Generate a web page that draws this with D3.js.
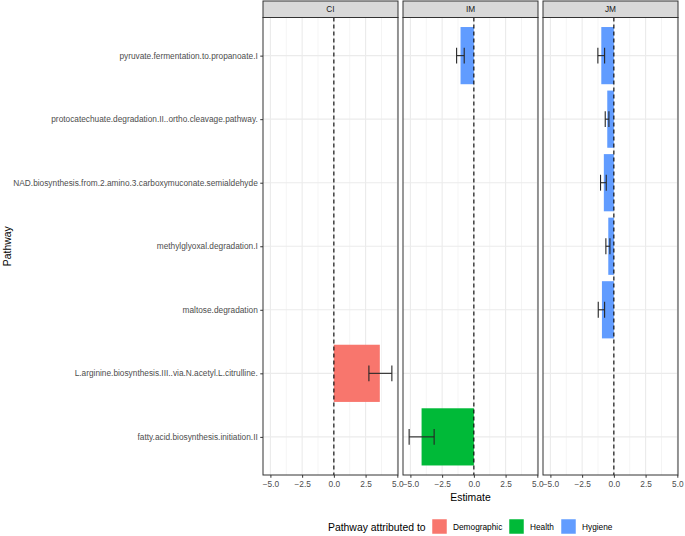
<!DOCTYPE html>
<html>
<head>
<meta charset="utf-8">
<script src="https://cdn.jsdelivr.net/npm/d3@7"></script>
<style>
  body { margin: 0; background: #fff; }
  svg { display: block; font-family: "Liberation Sans", Arial, sans-serif; }
</style>
</head>
<body>
<svg id="chart" width="685" height="536"></svg>
<script>
// ---- Data ----
const panels = ["CI", "IM", "JM"];
const pathways = [
  "pyruvate.fermentation.to.propanoate.I",
  "protocatechuate.degradation.II..ortho.cleavage.pathway.",
  "NAD.biosynthesis.from.2.amino.3.carboxymuconate.semialdehyde",
  "methylglyoxal.degradation.I",
  "maltose.degradation",
  "L.arginine.biosynthesis.III..via.N.acetyl.L.citrulline.",
  "fatty.acid.biosynthesis.initiation.II"
];
const groups = ["Demographic", "Health", "Hygiene"];
const groupColors = ["#F8766D", "#00BA38", "#619CFF"];
const xTicks = [-5, -2.5, 0, 2.5, 5];
const xMinorTicks = [-3.75, -1.25, 1.25, 3.75];

const rowPanel    = ["CI", "IM", "IM", "JM", "JM", "JM", "JM", "JM"];
const rowPathway  = [
  "L.arginine.biosynthesis.III..via.N.acetyl.L.citrulline.",
  "pyruvate.fermentation.to.propanoate.I",
  "fatty.acid.biosynthesis.initiation.II",
  "pyruvate.fermentation.to.propanoate.I",
  "protocatechuate.degradation.II..ortho.cleavage.pathway.",
  "NAD.biosynthesis.from.2.amino.3.carboxymuconate.semialdehyde",
  "methylglyoxal.degradation.I",
  "maltose.degradation"
];
const rowGroup    = ["Demographic", "Hygiene", "Health", "Hygiene", "Hygiene", "Hygiene", "Hygiene", "Hygiene"];
const rowEstimate = [3.62, -1.05, -4.12, -0.99, -0.52, -0.79, -0.44, -0.94];
const rowLower    = [2.76, -1.36, -5.10, -1.26, -0.68, -1.05, -0.63, -1.23];
const rowUpper    = [4.57, -0.76, -3.13, -0.73, -0.39, -0.60, -0.31, -0.73];

const rows = rowPanel.map((p, i) => ({
  panel: p, pathway: rowPathway[i], group: rowGroup[i],
  est: rowEstimate[i], lo: rowLower[i], hi: rowUpper[i]
}));

// ---- Layout ----
const svg = d3.select("#chart");
const panelTop = 17.5, panelBottom = 475;
const panelW = 135, panelGap = 5, firstLeft = 263;
const stripTop = 1;

const dmin = d3.min(rows, d => Math.min(d.lo, d.est, 0));
const dmax = d3.max(rows, d => Math.max(d.hi, d.est, 0));
const pad = (dmax - dmin) * 0.05;

const x = d3.scaleLinear().domain([dmin - pad, dmax + pad]).range([0, panelW]);
const y = d3.scaleBand().domain(pathways)
  .range([panelTop, panelBottom]).paddingOuter(0.1).paddingInner(0).align(0.5);
// ggplot discrete expansion 0.6 units each side
const n = pathways.length;
const step = (panelBottom - panelTop) / (n - 1 + 1.2);
const yc = p => panelTop + (0.6 + pathways.indexOf(p)) * step;
const color = d3.scaleOrdinal().domain(groups).range(groupColors);

const gridCol = "#EBEBEB", borderCol = "#333333", tickCol = "#333333", txtCol = "#4D4D4D";

panels.forEach((pn, pi) => {
  const left = firstLeft + pi * (panelW + panelGap);
  const g = svg.append("g").attr("transform", `translate(${left},0)`);

  // strip
  g.append("rect").attr("x", 0).attr("y", stripTop).attr("width", panelW)
    .attr("height", panelTop - stripTop).attr("fill", "#D9D9D9")
    .attr("stroke", borderCol).attr("stroke-width", 1);
  g.append("text").attr("x", panelW / 2).attr("y", (stripTop + panelTop) / 2 + 3)
    .attr("text-anchor", "middle").attr("font-size", 8.3).attr("fill", "#1A1A1A").text(pn);

  // minor vertical grid
  g.selectAll(".minor").data(xMinorTicks).enter().append("line")
    .attr("x1", d => x(d)).attr("x2", d => x(d)).attr("y1", panelTop).attr("y2", panelBottom)
    .attr("stroke", gridCol).attr("stroke-width", 0.55);
  // major vertical grid
  g.selectAll(".major").data(xTicks).enter().append("line")
    .attr("x1", d => x(d)).attr("x2", d => x(d)).attr("y1", panelTop).attr("y2", panelBottom)
    .attr("stroke", gridCol).attr("stroke-width", 1.1);
  // horizontal grid
  g.selectAll(".hgrid").data(pathways).enter().append("line")
    .attr("x1", 0).attr("x2", panelW).attr("y1", d => yc(d)).attr("y2", d => yc(d))
    .attr("stroke", gridCol).attr("stroke-width", 1.1);

  const pd = rows.filter(r => r.panel === pn);
  const bh = step * 0.9;
  // bars
  g.selectAll(".bar").data(pd).enter().append("rect")
    .attr("x", d => Math.min(x(0), x(d.est)))
    .attr("width", d => Math.abs(x(d.est) - x(0)))
    .attr("y", d => yc(d.pathway) - bh / 2).attr("height", bh)
    .attr("fill", d => color(d.group));

  // dashed zero line
  g.append("line").attr("x1", x(0)).attr("x2", x(0)).attr("y1", panelTop).attr("y2", panelBottom)
    .attr("stroke", "#000").attr("stroke-width", 1.1).attr("stroke-dasharray", "4,3");

  // error bars
  const cap = step * 0.25 / 2;
  const eb = g.selectAll(".eb").data(pd).enter().append("g").attr("stroke", "#262626").attr("stroke-width", 1.1);
  eb.append("line").attr("x1", d => x(d.lo)).attr("x2", d => x(d.hi))
    .attr("y1", d => yc(d.pathway)).attr("y2", d => yc(d.pathway));
  eb.append("line").attr("x1", d => x(d.lo)).attr("x2", d => x(d.lo))
    .attr("y1", d => yc(d.pathway) - cap).attr("y2", d => yc(d.pathway) + cap);
  eb.append("line").attr("x1", d => x(d.hi)).attr("x2", d => x(d.hi))
    .attr("y1", d => yc(d.pathway) - cap).attr("y2", d => yc(d.pathway) + cap);

  // panel border
  g.append("rect").attr("x", 0).attr("y", panelTop).attr("width", panelW)
    .attr("height", panelBottom - panelTop).attr("fill", "none")
    .attr("stroke", borderCol).attr("stroke-width", 1);

  // x axis
  const xa = d3.axisBottom(x).tickValues(xTicks).tickFormat(d3.format(".1f")).tickSize(2.75).tickPadding(3);
  const ax = g.append("g").attr("transform", `translate(0,${panelBottom})`).call(xa);
  ax.select(".domain").remove();
  ax.selectAll(".tick line").attr("stroke", tickCol).attr("stroke-width", 1);
  ax.selectAll(".tick text").attr("fill", txtCol).attr("font-size", 8.3)
    .attr("font-family", "Liberation Sans, Arial, sans-serif");
});

// y axis on first panel
const yAxisScale = d3.scalePoint().domain(pathways)
  .range([yc(pathways[0]), yc(pathways[n - 1])]);
const ya = d3.axisLeft(yAxisScale).tickSize(2.75).tickPadding(2.5);
const yag = svg.append("g").attr("transform", `translate(${firstLeft},0)`).call(ya);
yag.select(".domain").remove();
yag.selectAll(".tick line").attr("stroke", tickCol).attr("stroke-width", 1);
yag.selectAll(".tick text").attr("fill", txtCol).attr("font-size", 8.3)
  .attr("font-family", "Liberation Sans, Arial, sans-serif");

// axis titles
const totalMid = firstLeft + (3 * panelW + 2 * panelGap) / 2;
svg.append("text").attr("x", totalMid).attr("y", 501).attr("text-anchor", "middle")
  .attr("font-size", 10.4).attr("fill", "#000").text("Estimate");
svg.append("text").attr("transform", `translate(11,${(panelTop + panelBottom) / 2}) rotate(-90)`)
  .attr("text-anchor", "middle").attr("font-size", 10.4).attr("fill", "#000").text("Pathway");

// legend
const lg = svg.append("g");
lg.append("text").attr("x", 328).attr("y", 530.5).attr("font-size", 10.4).attr("fill", "#000")
  .text("Pathway attributed to");
const keyX = [432, 509, 561];
groups.forEach((gname, i) => {
  lg.append("rect").attr("x", keyX[i]).attr("y", 519).attr("width", 15).attr("height", 15)
    .attr("fill", color(gname)).attr("stroke", "#fff").attr("stroke-width", 0.5);
  lg.append("text").attr("x", keyX[i] + 21).attr("y", 529.5).attr("font-size", 8.3)
    .attr("fill", "#000").text(gname);
});
</script>
</body>
</html>
